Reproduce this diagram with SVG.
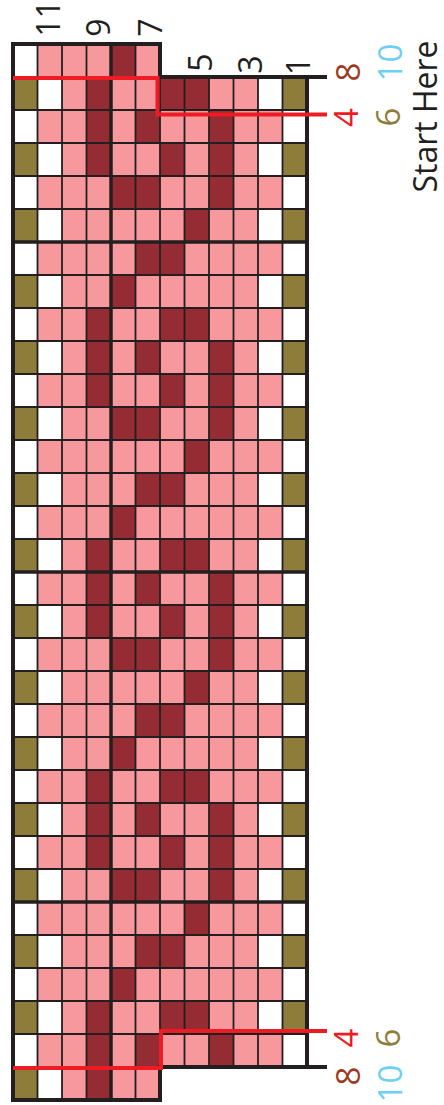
<svg xmlns="http://www.w3.org/2000/svg" xmlns:xlink="http://www.w3.org/1999/xlink" width="444" height="1105" viewBox="0 0 444 1105">
<style>
.pk{fill:#F7989D}
.dk{fill:#952B33}
.ol{fill:#8E7D3A}
.wh{fill:#FFFFFF}
.grid{fill:none;stroke:#231F20;stroke-width:1.8}
.thick{fill:none;stroke:#231F20;stroke-width:3.5}
.border{fill:none;stroke:#231F20;stroke-width:4;stroke-linejoin:miter}
.red{fill:none;stroke:#ED1C24;stroke-width:4;stroke-linejoin:miter}
text{font-family:"Open Sans","Liberation Sans",sans-serif;text-anchor:middle}
.num{font-size:32px;fill:#231F20}
.lab{font-size:33px}
</style>
<defs>
<g id="side">
<rect class="ol" x="13" y="0" width="24.5" height="33"/>
<rect class="wh" x="37.5" y="0" width="24.5" height="33"/>
<rect class="wh" x="258" y="0" width="24.5" height="33"/>
<rect class="ol" x="282.5" y="0" width="24.5" height="33"/>
</g>
<g id="block" class="dk">
<rect x="86.5" y="0" width="24.5" height="99"/>
<rect x="160" y="0" width="49" height="33"/>
<rect x="135.5" y="33" width="24.5" height="33"/>
<rect x="209" y="33" width="24.5" height="99"/>
<rect x="160" y="66" width="24.5" height="33"/>
<rect x="111" y="99" width="49" height="33"/>
<rect x="184.5" y="132" width="24.5" height="33"/>
<rect x="135.5" y="165" width="49" height="33"/>
<rect x="111" y="198" width="24.5" height="33"/>
</g>
</defs>
<rect x="0" y="0" width="444" height="1105" fill="#FFFFFF"/>
<g id="cells">
<rect class="pk" x="37.5" y="44" width="122.5" height="1056"/>
<rect class="pk" x="160" y="77" width="122.5" height="990"/>
<use href="#side" y="77"/><use href="#side" y="143"/><use href="#side" y="209"/><use href="#side" y="275"/>
<use href="#side" y="341"/><use href="#side" y="407"/><use href="#side" y="473"/><use href="#side" y="539"/>
<use href="#side" y="605"/><use href="#side" y="671"/><use href="#side" y="737"/><use href="#side" y="803"/>
<use href="#side" y="869"/><use href="#side" y="935"/><use href="#side" y="1001"/>
<rect class="ol" x="13" y="1067" width="24.5" height="33"/>
<rect class="wh" x="37.5" y="1067" width="24.5" height="33"/>
<rect class="dk" x="111" y="44" width="24.5" height="33"/>
<use href="#block" y="77"/><use href="#block" y="308"/><use href="#block" y="539"/><use href="#block" y="770"/>
<rect class="dk" x="86.5" y="1001" width="24.5" height="99"/>
<rect class="dk" x="160" y="1001" width="49" height="33"/>
<rect class="dk" x="135.5" y="1034" width="24.5" height="33"/>
<rect class="dk" x="209" y="1034" width="24.5" height="33"/>
</g>
<g id="gridlines">
<path class="grid" d="M37.5 44V1100M62 44V1100M86.5 44V1100M135.5 44V1100M160 77V1067M184.5 77V1067M209 77V1067M233.5 77V1067M258 77V1067M282.5 77V1067M13 77H160M13 110H307M13 143H307M13 176H307M13 209H307M13 275H307M13 308H307M13 341H307M13 374H307M13 407H307M13 440H307M13 473H307M13 506H307M13 539H307M13 605H307M13 638H307M13 671H307M13 704H307M13 737H307M13 770H307M13 803H307M13 836H307M13 869H307M13 935H307M13 968H307M13 1001H307M13 1034H307M13 1067H160"/>
<path class="thick" d="M13 242H307M13 572H307M13 902H307M111 44V1100"/>
<path class="border" d="M327 77H160V44H13V1100H160V1067H327M307 77V1067"/>
</g>
<g id="connectors">
<path class="red" d="M13 78H157.5V114.5H327"/>
<path class="red" d="M13 1068H161V1031H327"/>
</g>
<g id="column-numbers">
<text class="num" transform="translate(60,18.5) rotate(-90)">11</text>
<text class="num" transform="translate(109.5,27.5) rotate(-90)">9</text>
<text class="num" transform="translate(161.5,27.5) rotate(-90)">7</text>
<text class="num" transform="translate(211.5,62.5) rotate(-90)">5</text>
<text class="num" transform="translate(261.5,64.5) rotate(-90)">3</text>
<text class="num" transform="translate(310,66) rotate(-90)">1</text>
</g>
<g id="top-labels">
<text class="lab" fill="#9D3A22" transform="translate(360,72) rotate(-90)">8</text>
<text class="lab" fill="#6DCFF6" transform="translate(402,62.5) rotate(-90)">10</text>
<text class="lab" fill="#ED1C24" transform="translate(358,117.5) rotate(-90)">4</text>
<text class="lab" fill="#8E7D3A" transform="translate(400,117) rotate(-90)">6</text>
<text fill="#231F20" font-size="32" transform="translate(437,116.5) rotate(-90)">Start Here</text>
</g>
<g id="bottom-labels">
<text class="lab" fill="#ED1C24" transform="translate(358,1038) rotate(-90)">4</text>
<text class="lab" fill="#8E7D3A" transform="translate(400,1038) rotate(-90)">6</text>
<text class="lab" fill="#9D3A22" transform="translate(360,1076) rotate(-90)">8</text>
<text class="lab" fill="#6DCFF6" transform="translate(402,1083.5) rotate(-90)">10</text>
</g>
</svg>
